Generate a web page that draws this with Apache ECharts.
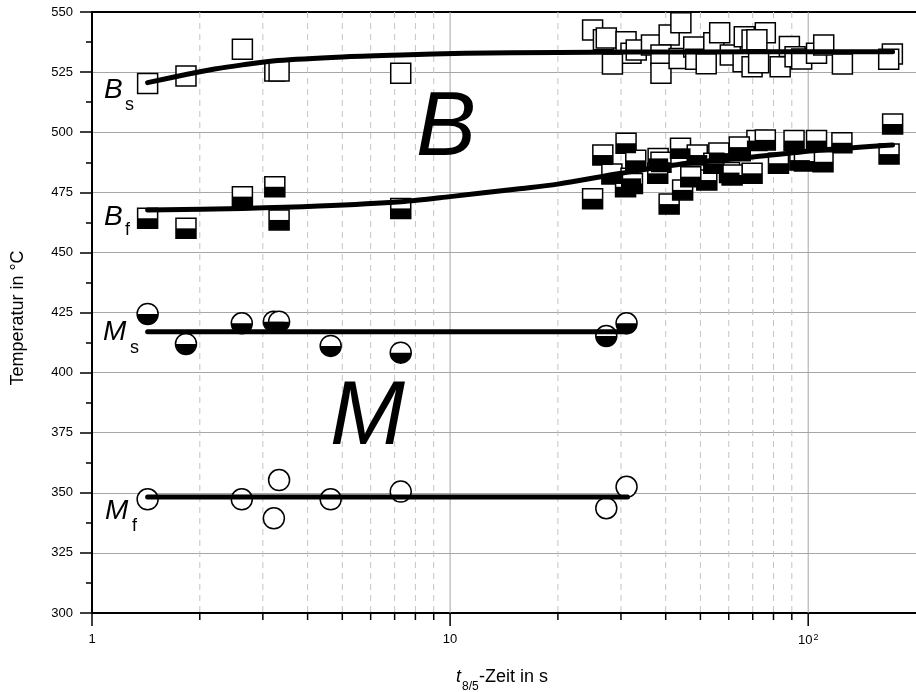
<!DOCTYPE html>
<html><head><meta charset="utf-8">
<script src="https://cdn.jsdelivr.net/npm/echarts@6/dist/echarts.min.js"></script>
<style>html,body{margin:0;padding:0;background:#fff}#c{width:916px;height:692px}</style>
</head><body><div id="c"></div>
<script>
// ---- data ----
const bsX = [1.43,1.83,2.63,3.24,3.33,7.28,25.0,26.8,27.3,31.0,32.0,28.4,33.1,36.5,40.9,44.1,38.8,38.8,43.6,47.9,48.5,51.9,54.5,56.6,60.6,66.3,69.7,75.9,71.9,65.8,69.7,72.7,83.5,88.6,91.9,95.9,105.5,110.5,124.6,171.8,167.8];
const bsY = [520.3,523.4,534.5,525.5,525.5,524.5,542.5,538.5,539.2,537.6,532.8,528.4,534.2,536.3,540.4,545.5,532.1,524.5,530.7,535.4,530.3,528.5,537.2,541.4,532.1,539.7,538.4,541.4,538.5,529.3,527.2,528.9,527.2,535.6,531.4,530.4,532.8,536.3,528.4,532.5,530.3];
const bfX = [1.43,1.83,2.63,3.24,3.33,7.28,25.0,26.7,31.0,28.3,32.0,30.9,33.0,38.1,38.8,44.0,40.9,44.6,49.0,52.1,56.3,60.3,64.6,71.9,75.9,91.3,105.5,124.2,172.1,168.2,110.0,94.8,82.6,69.7,38.0,47.0,54.5,32.3,61.3,97.6,64.2];
const bfY = [464.2,460.0,473.2,477.3,463.5,468.3,472.3,490.5,495.4,482.6,480.8,477.3,488.3,489.1,487.5,493.3,470.1,476.0,490.5,480.1,491.3,483.2,492.3,496.5,496.8,496.5,496.5,495.6,503.4,490.9,487.7,488.4,487.1,482.9,482.9,481.5,487.1,478.7,482.2,488.0,493.8];
const msX = [1.43,1.83,2.62,3.22,3.33,4.64,7.28,27.3,31.1];
const msY = [424.4,411.9,420.5,421.2,421.2,411.1,408.3,415.2,420.5];
const mfX = [1.43,2.62,3.33,3.22,4.64,7.28,27.3,31.1];
const mfY = [347.3,347.3,355.3,339.4,347.3,350.5,343.6,352.5];
// fitted curves
const bsFitX = [1.43,1.83,2.2,2.63,3.3,5,7.3,11,20,50,100,172];
const bsFitY = [520.6,524.0,526.3,528.0,529.8,531.3,532.1,532.8,533.2,533.4,533.5,533.5];
const bfFitX = [1.43,2.63,4.3,7.3,10,15.4,20,30,46,71,109,172];
const bfFitY = [467.6,468.3,469.3,471.1,473.2,476.4,478.4,482.9,487.1,489.8,492.6,494.7];
const msFitX = [1.43,31.3];
const msFitY = [417.0,417.0];
const mfFitX = [1.43,31.3];
const mfFitY = [348.3,348.3];
// axis ticks
const xMajorTicks = [1,10,100];
const xMinorTicks = [2,3,4,5,6,7,8,9,20,30,40,50,60,70,80,90];
const yMin = 300, yMax = 550, yStep = 25;
const xMin = 1, xMax = 200;

const zip = (a,b) => a.map((v,i) => [v, b[i]]);
const FONT = "'Liberation Sans', Arial, Helvetica, sans-serif";
const chart = echarts.init(document.getElementById('c'), null, {renderer:'canvas'});

function tickSeries(vals, isMajor){
  return {
    type:'custom', z:1, silent:true, clip:false,
    data: vals.map(v => [v, yMin]),
    renderItem: function(params, api){
      const x = api.value(0);
      const pb = api.coord([x, yMin]);
      const pt = api.coord([x, yMax]);
      const ch = [];
      if (!(isMajor && x === xMin)) {
        ch.push({type:'line', shape:{x1:pb[0], y1:pt[1], x2:pb[0], y2:pb[1]},
          style: isMajor ? {stroke:'#a6a6a6', lineWidth:1} : {stroke:'#c4c4c4', lineWidth:1, lineDash:[6,5]}});
      }
      ch.push({type:'line', shape:{x1:pb[0], y1:pb[1], x2:pb[0], y2:pb[1] + (isMajor ? 13 : 7)},
        style:{stroke:'#000', lineWidth:1.5}});
      return {type:'group', children: ch};
    }
  };
}

const SQ = 20, CI = 21;
const halfCircle = 'path://M0,0 A10,10 0 0,0 20,0 Z';

const option = {
  animation:false,
  backgroundColor:'#fff',
  grid:{left:92, top:12, width:830, height:601},
  xAxis:[{
    type:'log', logBase:10, min:xMin, max:xMax, position:'bottom',
    axisLine:{show:true, onZero:false, lineStyle:{color:'#000', width:2}},
    axisTick:{show:false}, minorTick:{show:false}, splitLine:{show:false},
    axisLabel:{
      margin:20, color:'#000', fontSize:13, fontFamily:FONT, showMaxLabel:false,
      formatter:function(v){
        const l = Math.log10(v);
        if (Math.abs(l - Math.round(l)) > 1e-6) return '';
        const e = Math.round(l);
        if (e === 0) return '1';
        if (e === 1) return '10';
        return '{b|10}{s|' + e + '}';
      },
      rich:{b:{fontSize:13, fontFamily:FONT, color:'#000'}, s:{fontSize:9, fontFamily:FONT, color:'#000', verticalAlign:'top', padding:[0,0,6,1]}}
    }
  },{
    type:'log', logBase:10, min:xMin, max:xMax, position:'top',
    axisLine:{show:true, onZero:false, lineStyle:{color:'#000', width:2}},
    axisTick:{show:false}, axisLabel:{show:false}, splitLine:{show:false}
  }],
  yAxis:{
    type:'value', min:yMin, max:yMax, interval:yStep,
    axisLine:{show:true, onZero:false, lineStyle:{color:'#000', width:2}},
    axisTick:{show:true, length:12, lineStyle:{color:'#000', width:1.5}},
    minorTick:{show:true, splitNumber:2, length:6, lineStyle:{color:'#000', width:1.5}},
    splitLine:{show:true, lineStyle:{color:'#a6a6a6', width:1}},
    axisLabel:{margin:19, color:'#000', fontSize:13, fontFamily:FONT}
  },
  series:[
    tickSeries(xMinorTicks, false),
    tickSeries(xMajorTicks, true),
    {type:'scatter', z:2, data:zip(bsX,bsY), symbol:'rect', symbolSize:SQ,
      itemStyle:{color:'#fff', borderColor:'#000', borderWidth:1.5, opacity:1}},
    {type:'scatter', z:2, data:zip(bfX,bfY), symbol:'rect', symbolSize:SQ,
      itemStyle:{color:'#fff', borderColor:'#000', borderWidth:1.5, opacity:1}},
    {type:'scatter', z:2, data:zip(bfX,bfY), symbol:'rect', symbolSize:[SQ, SQ/2], symbolOffset:[0, SQ/4],
      itemStyle:{color:'#000', opacity:1}},
    {type:'scatter', z:2, data:zip(msX,msY), symbol:'circle', symbolSize:CI,
      itemStyle:{color:'#fff', borderColor:'#000', borderWidth:1.5, opacity:1}},
    {type:'scatter', z:2, data:zip(msX,msY), symbol:halfCircle, symbolSize:[CI, CI/2], symbolOffset:[0, CI/4],
      itemStyle:{color:'#000', opacity:1}},
    {type:'scatter', z:2, data:zip(mfX,mfY), symbol:'circle', symbolSize:CI,
      itemStyle:{color:'#fff', borderColor:'#000', borderWidth:1.5, opacity:1}},
    {type:'line', z:3, data:zip(bsFitX,bsFitY), showSymbol:false, smooth:0.3,
      lineStyle:{color:'#000', width:5, cap:'round', join:'round'}},
    {type:'line', z:3, data:zip(bfFitX,bfFitY), showSymbol:false, smooth:0.3,
      lineStyle:{color:'#000', width:5, cap:'round', join:'round'}},
    {type:'line', z:3, data:zip(msFitX,msFitY), showSymbol:false,
      lineStyle:{color:'#000', width:5, cap:'round'}},
    {type:'line', z:3, data:zip(mfFitX,mfFitY), showSymbol:false,
      lineStyle:{color:'#000', width:5, cap:'round'}}
  ],
  graphic:[
    {type:'text', z:10, x:416, y:130, style:{text:'B', font:'italic 90px ' + FONT, fill:'#000', align:'left', verticalAlign:'middle'}},
    {type:'text', z:10, x:330, y:419, style:{text:'M', font:'italic 90px ' + FONT, fill:'#000', align:'left', verticalAlign:'middle'}},
    {type:'text', z:10, x:104, y:90, style:{text:'B', font:'italic 28px ' + FONT, fill:'#000', align:'left', verticalAlign:'middle'}},
    {type:'text', z:10, x:125, y:105, style:{text:'s', font:'18px ' + FONT, fill:'#000', align:'left', verticalAlign:'middle'}},
    {type:'text', z:10, x:104, y:217, style:{text:'B', font:'italic 28px ' + FONT, fill:'#000', align:'left', verticalAlign:'middle'}},
    {type:'text', z:10, x:125, y:230, style:{text:'f', font:'18px ' + FONT, fill:'#000', align:'left', verticalAlign:'middle'}},
    {type:'text', z:10, x:103, y:332, style:{text:'M', font:'italic 28px ' + FONT, fill:'#000', align:'left', verticalAlign:'middle'}},
    {type:'text', z:10, x:130, y:348, style:{text:'s', font:'18px ' + FONT, fill:'#000', align:'left', verticalAlign:'middle'}},
    {type:'text', z:10, x:105, y:511, style:{text:'M', font:'italic 28px ' + FONT, fill:'#000', align:'left', verticalAlign:'middle'}},
    {type:'text', z:10, x:132, y:526, style:{text:'f', font:'18px ' + FONT, fill:'#000', align:'left', verticalAlign:'middle'}},
    {type:'text', z:10, x:18, y:318, rotation:Math.PI/2, style:{text:'Temperatur in °C', font:'18px ' + FONT, fill:'#000', align:'center', verticalAlign:'middle'}},
    {type:'text', z:10, x:456, y:677, style:{text:'t', font:'italic 18px ' + FONT, fill:'#000', align:'left', verticalAlign:'middle'}},
    {type:'text', z:10, x:462, y:687, style:{text:'8/5', font:'12px ' + FONT, fill:'#000', align:'left', verticalAlign:'middle'}},
    {type:'text', z:10, x:479, y:677, style:{text:'-Zeit in s', font:'18px ' + FONT, fill:'#000', align:'left', verticalAlign:'middle'}}
  ]
};
chart.setOption(option);
</script>
</body></html>
